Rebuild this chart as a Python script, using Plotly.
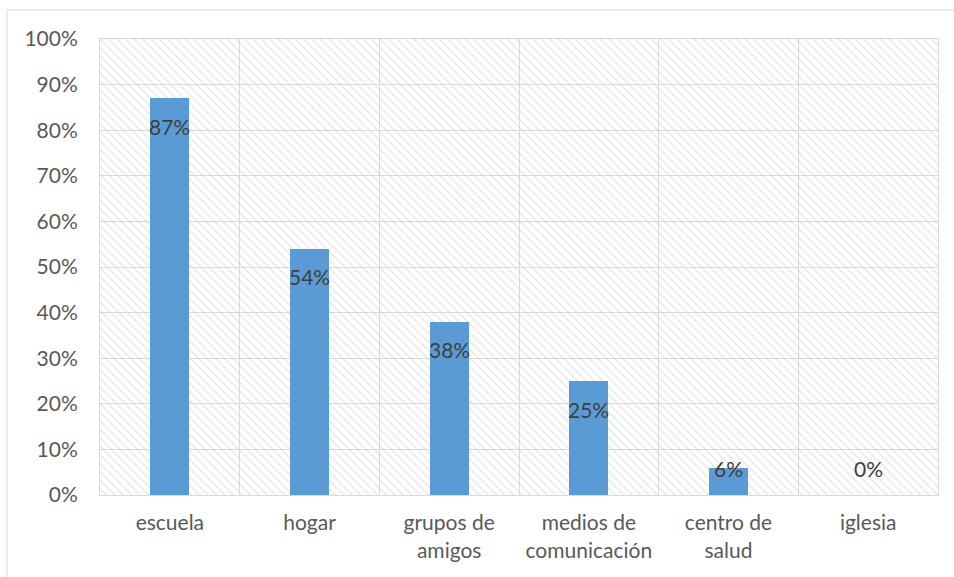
import plotly.graph_objects as go

categories = ["escuela", "hogar", "grupos de<br>amigos", "medios de<br>comunicación", "centro de<br>salud", "iglesia"]
values = [0.87, 0.54, 0.38, 0.25, 0.06, 0.00]
value_labels = ["87%", "54%", "38%", "25%", "6%", "0%"]
y_ticks = [0, 0.1, 0.2, 0.3, 0.4, 0.5, 0.6, 0.7, 0.8, 0.9, 1.0]
y_tick_labels = ["0%", "10%", "20%", "30%", "40%", "50%", "60%", "70%", "80%", "90%", "100%"]

W, H = 954, 577
ML, MR, MT, MB = 100, 16, 39, 82
plot_h = H - MT - MB
ymin, ymax = 0, 1.0
n = len(categories)
xs = list(range(n))
xr = [-0.5, n - 0.5]

FONT = "Lato, 'Open Sans', sans-serif"
GRID = "#D9D9D9"

fig = go.Figure()

# hatched plot background
fig.add_trace(go.Bar(
    x=[(xr[0] + xr[1]) / 2], y=[ymax], width=[xr[1] - xr[0]],
    marker=dict(color="rgba(0,0,0,0)", line=dict(width=0),
                pattern=dict(shape="\\", fgcolor="#CFCFCF", bgcolor="rgba(0,0,0,0)",
                             size=6, solidity=0.25, fillmode="overlay")),
    hoverinfo="skip", showlegend=False,
))

fig.add_trace(go.Bar(
    x=xs, y=values, width=0.28,
    marker=dict(color="#5B9BD5", line=dict(width=0)),
    showlegend=False,
))

for i, (v, t) in enumerate(zip(values, value_labels)):
    bar_px = (v - ymin) / (ymax - ymin) * plot_h
    fig.add_annotation(x=i, y=v, text=t, showarrow=False, xanchor="center", yanchor="middle",
                       yshift=max(-28, 27 - bar_px),
                       font=dict(family=FONT, size=21, color="#404040"))

# outer chart frame
fig.add_shape(type="rect", xref="paper", yref="paper",
              x0=(7 - ML) / (W - ML - MR), x1=(W + 10 - ML) / (W - ML - MR),
              y0=(H - MB - (H + 10)) / plot_h, y1=(H - MB - 10) / plot_h,
              line=dict(color="#D9D9D9", width=1), fillcolor="rgba(0,0,0,0)", layer="below")

fig.update_layout(
    width=W, height=H,
    margin=dict(l=ML, r=MR, t=MT, b=MB),
    paper_bgcolor="white", plot_bgcolor="white",
    barmode="overlay", bargap=0,
    font=dict(family=FONT, size=21, color="#595959"),
    xaxis=dict(range=xr, tickmode="array", tickvals=xs, ticktext=categories,
               showgrid=False, zeroline=False,
               showline=True, linecolor=GRID, linewidth=1, mirror=True,
               ticks="", ticklabelstandoff=9,
               minor=dict(tick0=-0.5, dtick=1, showgrid=True, gridcolor=GRID, gridwidth=1, ticks=""),
               tickfont=dict(family=FONT, size=21, color="#595959")),
    yaxis=dict(range=[ymin, ymax], tickmode="array", tickvals=y_ticks, ticktext=y_tick_labels,
               showgrid=True, gridcolor=GRID, gridwidth=1, zeroline=False,
               showline=True, linecolor=GRID, linewidth=1, mirror=True,
               ticks="", ticklabelstandoff=17,
               tickfont=dict(family=FONT, size=21, color="#595959")),
)

fig.write_html("out.html", config={"displayModeBar": False},
               post_script="document.body.style.margin='0';document.body.style.overflow='hidden';")
